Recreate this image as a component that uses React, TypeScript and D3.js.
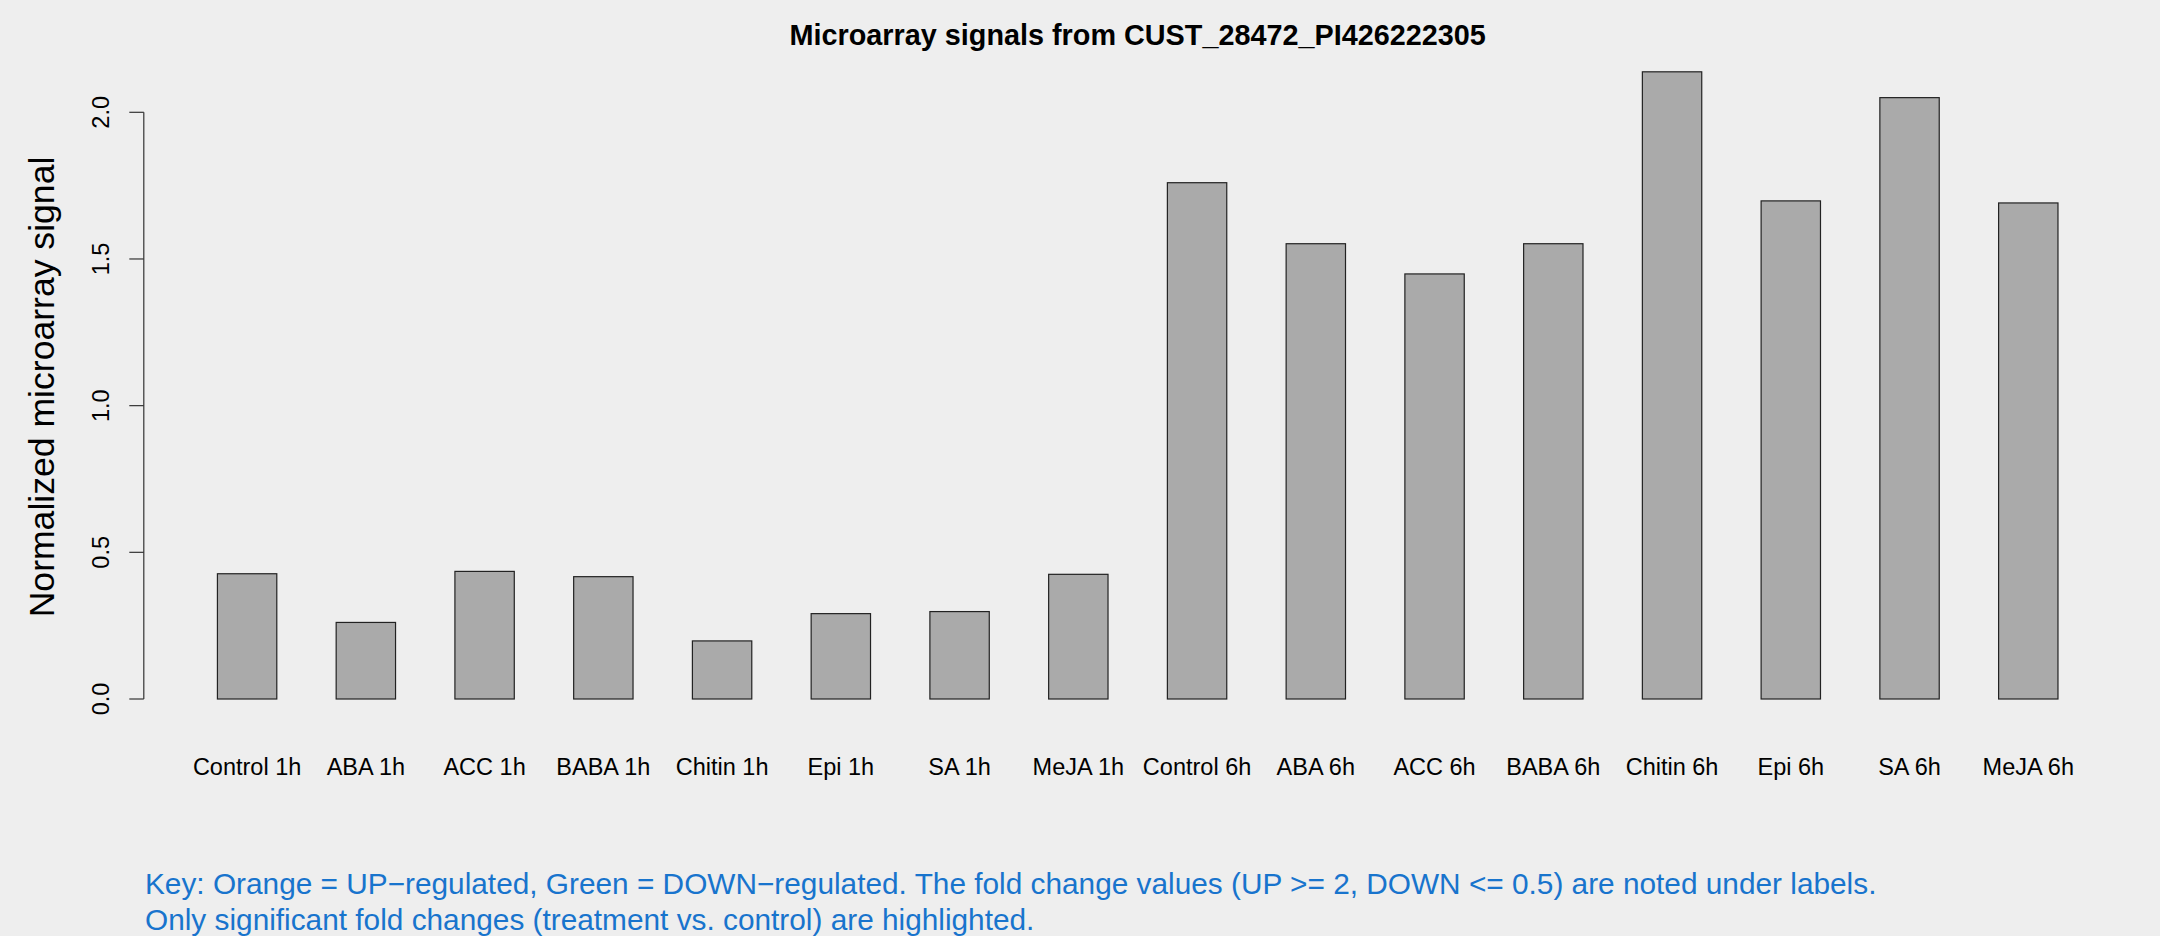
import React, { useEffect } from "react";
import * as d3 from "d3";

const categories = [
  "Control 1h", "ABA 1h", "ACC 1h", "BABA 1h", "Chitin 1h", "Epi 1h", "SA 1h", "MeJA 1h",
  "Control 6h", "ABA 6h", "ACC 6h", "BABA 6h", "Chitin 6h", "Epi 6h", "SA 6h", "MeJA 6h",
];
const values = [
  0.427, 0.261, 0.435, 0.417, 0.198, 0.291, 0.298, 0.425,
  1.760, 1.552, 1.449, 1.552, 2.138, 1.698, 2.050, 1.691,
];
const yTicks = [0, 0.5, 1.0, 1.5, 2.0];
const title = "Microarray signals from CUST_28472_PI426222305";
const yLabel = "Normalized microarray signal";
const footerLines = [
  "Key: Orange = UP\u2212regulated, Green = DOWN\u2212regulated. The fold change values (UP >= 2, DOWN <= 0.5) are noted under labels.",
  "Only significant fold changes (treatment vs. control) are highlighted.",
];

const W = 2160;
const H = 936;
const FONT = "'Liberation Sans', Arial, Helvetica, sans-serif";

export default function App() {
  useEffect(() => {
    document.body.style.margin = "0";
    document.body.style.background = "#eeeeee";
  }, []);

  const n = categories.length;
  // R barplot units: bar i spans [1 + 2i, 2 + 2i]; xlim extended by 4%
  const xMin = 1 - 0.04 * (2 * n - 1);
  const xMax = 2 * n + 0.04 * (2 * n - 1);
  const x = d3.scaleLinear().domain([xMin, xMax]).range([143.8, 2131.6]);
  const y = d3.scaleLinear().domain([0, 2]).range([699, 112.3]);
  const axisX = 143.8;

  return (
    <svg
      width={W}
      height={H}
      viewBox={`0 0 ${W} ${H}`}
      style={{ position: "absolute", left: 0, top: 0, display: "block" }}
      fontFamily={FONT}
    >
      <rect x={0} y={0} width={W} height={H} fill="#eeeeee" />
      <text x={1137.7} y={45} textAnchor="middle" fontWeight="bold" fontSize={28.8} fill="#000">
        {title}
      </text>

      {values.map((v, i) => {
        const x0 = x(1 + 2 * i);
        const x1 = x(2 + 2 * i);
        return (
          <rect
            key={i}
            x={x0}
            y={y(v)}
            width={x1 - x0}
            height={y(0) - y(v)}
            fill="#aaaaaa"
            stroke="#222"
            strokeWidth={1.2}
          />
        );
      })}

      {categories.map((c, i) => (
        <text
          key={c}
          x={x(1.5 + 2 * i)}
          y={775}
          textAnchor="middle"
          fontSize={23.5}
          fill="#000"
        >
          {c}
        </text>
      ))}

      <line x1={axisX} x2={axisX} y1={y(0)} y2={y(2)} stroke="#333" strokeWidth={1.2} />
      {yTicks.map((t) => (
        <g key={t}>
          <line x1={axisX - 14.5} x2={axisX} y1={y(t)} y2={y(t)} stroke="#333" strokeWidth={1.2} />
          <text
            transform={`translate(109.4, ${y(t)}) rotate(-90)`}
            textAnchor="middle"
            fontSize={23.5}
            fill="#000"
          >
            {d3.format(".1f")(t)}
          </text>
        </g>
      ))}

      <text
        transform={`translate(53.6, 387) rotate(-90)`}
        textAnchor="middle"
        fontSize={35.6}
        fill="#000"
      >
        {yLabel}
      </text>

      {footerLines.map((l, i) => (
        <text key={i} x={145} y={894.3 + i * 36} fontSize={29.8} fill="#1874cd">
          {l}
        </text>
      ))}
    </svg>
  );
}
